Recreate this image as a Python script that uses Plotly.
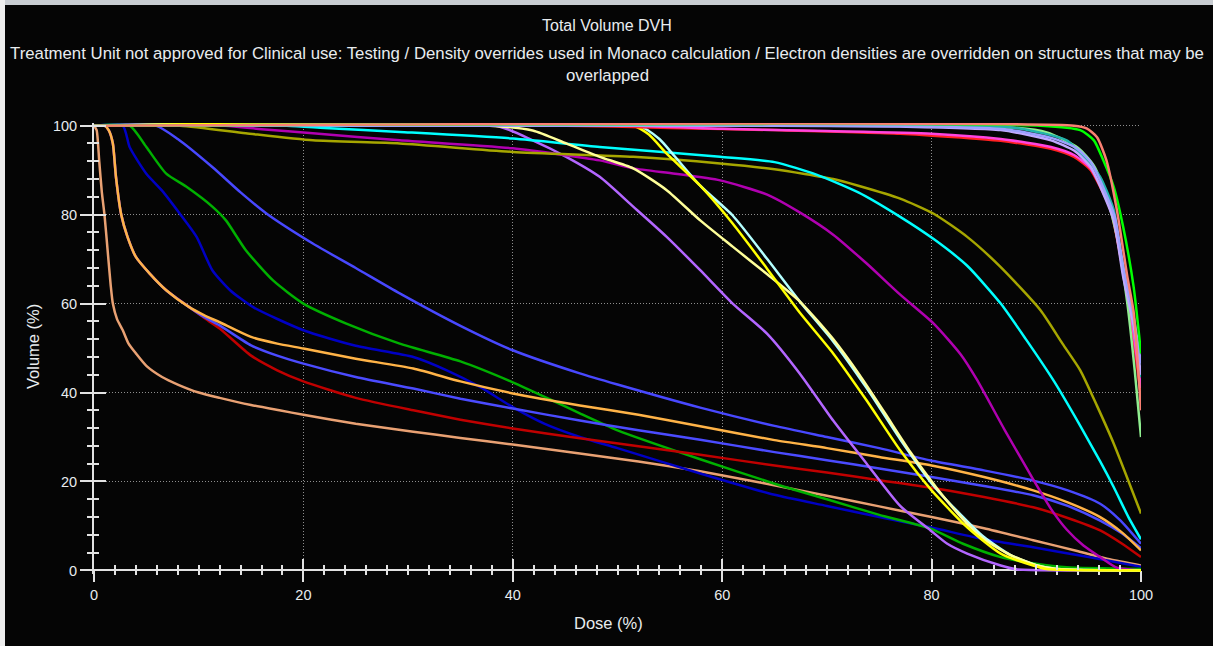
import plotly.graph_objects as go

# ---------------- data (dose %, volume %) ----------------
tan_dose = [0, 0.25, 0.5, 0.75, 1.0, 1.3, 1.6, 1.8, 2.2, 2.75, 3.3, 4, 5, 6.5, 8, 10, 12, 15, 17.7, 20, 25, 30.5, 35, 40, 46.4, 52, 57.9, 64, 70, 75, 80, 85, 89.7, 94, 97, 100]
tan_vol = [100, 99, 92, 85, 80, 72, 64, 60, 56.5, 54, 51, 48.8, 46, 43.5, 41.8, 40, 38.8, 37.2, 36, 35, 33, 31.2, 29.8, 28.3, 26.3, 24.5, 22.3, 19.6, 16.8, 14.4, 12, 9.5, 6.8, 4.3, 2.5, 1.1]

red_dose = [0, 1.0, 1.4, 1.8, 2.1, 2.6, 3.2, 4.0, 5.3, 6.9, 9.1, 10.5, 12, 15, 17.5, 20, 25, 30.5, 35, 40, 46.4, 52, 57.9, 65, 70, 75, 80, 85, 89.7, 93, 96.1, 98.2, 100]
red_vol = [100, 100, 99, 96, 88.4, 80, 75, 70.5, 66.8, 63, 59.2, 56.8, 54.4, 48.3, 45, 42.5, 38.8, 36, 33.9, 31.9, 29.7, 27.9, 26, 23.6, 22, 20.3, 18.6, 16.5, 14.2, 11.8, 9, 6, 3]

blue2_dose = [0, 1.0, 1.4, 1.8, 2.1, 2.6, 3.2, 4.0, 5.3, 6.9, 9.1, 10.5, 12, 15, 17.5, 20, 25, 30.5, 35, 40, 46.4, 52, 57.9, 65, 70, 75, 80, 85, 89.7, 93, 96.1, 98.2, 100]
blue2_vol = [100, 100, 99, 96, 88.4, 80, 75, 70.5, 66.8, 63, 59.2, 57, 55.1, 50.6, 48.3, 46.5, 43.5, 40.9, 38.6, 36.4, 33.7, 31.5, 29.4, 26.6, 24.8, 22.9, 21, 19, 16.9, 14.5, 11.2, 8.3, 5.0]

orange_dose = [0, 1.0, 1.4, 1.8, 2.1, 2.6, 3.2, 4.0, 5.3, 6.9, 9.1, 10.5, 12, 15, 17.5, 20, 25, 30.5, 35, 40, 46.4, 52, 57.9, 65, 70, 75, 80, 85, 89.7, 93, 96.1, 98.2, 100]
orange_vol = [100, 100, 99, 96, 88.4, 80, 75, 70.5, 66.8, 63, 59.2, 57.4, 55.8, 52.5, 51, 49.9, 47.6, 45.4, 42.5, 39.8, 37.1, 35, 32.4, 29.3, 27.5, 25.5, 23.6, 21, 18, 15.3, 12, 8.5, 4.5]

blue1_dose = [0, 5.9, 8, 11.3, 14, 16.5, 20.9, 25, 29.2, 35, 40, 46.4, 50, 57.9, 65, 70, 75, 79.9, 85, 89.7, 93, 96.1, 98, 100]
blue1_vol = [100, 100, 97, 90.7, 85, 80.2, 73.5, 68, 62.3, 55, 49.5, 44.3, 41.8, 36.6, 32.5, 30, 27.5, 24.7, 22.5, 20.2, 18, 15, 11.3, 6.0]

navy_dose = [0, 2.75, 3.4, 5, 6.5, 8.2, 9.8, 11.3, 13, 15.2, 20, 25, 30.5, 33.7, 36.9, 40, 43, 46.4, 50, 57.9, 65, 70, 75, 79.9, 85, 89.7, 95, 100]
navy_vol = [100, 100, 95.2, 89.2, 85.4, 80.2, 75, 67.5, 63, 59.2, 54, 50.5, 48, 45, 41.2, 36.7, 33, 30, 27.5, 21.8, 17, 14.5, 12, 9.7, 7, 5.2, 3, 0.8]

green_dose = [0, 3.4, 5, 6.9, 8.8, 11.3, 12.6, 14.5, 17.1, 20, 24.1, 29.2, 35, 40, 43.8, 46.4, 50, 57.9, 65, 70, 75, 79.9, 83, 86.6, 90, 92.9, 100]
green_vol = [100, 100, 95.2, 89.2, 86.3, 81.8, 78.7, 72, 65.2, 60, 55.5, 51, 47, 42.3, 38.2, 35.3, 31.5, 25, 19.5, 16, 12.5, 9.4, 6, 3, 1.5, 0.7, 0.3]

violet_dose = [0, 38.4, 41.9, 45.1, 48.3, 51.5, 54.7, 57.9, 61, 64.3, 67.4, 70.6, 73.8, 77, 79.9, 81.5, 83.4, 86.6, 88, 100]
violet_vol = [100, 100, 96.7, 93, 88.5, 81.8, 75, 67.5, 60, 53.2, 44.3, 33.7, 24, 14.5, 9, 6, 3.8, 1.1, 0.3, 0]

paleyellow_dose = [0, 37.8, 41.9, 45.1, 48.3, 51.5, 54.7, 57.9, 61, 64.3, 67.4, 70.6, 73.1, 75.5, 78, 80.5, 83, 85, 87.5, 90, 92, 100]
paleyellow_vol = [100, 100, 98.9, 96, 93, 90.4, 85.5, 78.7, 72.8, 66.6, 60.5, 52, 44, 35.5, 26.5, 18.5, 11.5, 7, 3.5, 1.2, 0.3, 0]

yellow_dose = [0, 51.5, 53, 54.7, 57.9, 61, 64.3, 67.4, 70.6, 73.8, 77, 80, 83.4, 86.6, 89.7, 91, 100]
yellow_vol = [100, 100, 98, 93.7, 86.5, 78, 67.8, 58, 48.8, 38.2, 27, 18, 9.7, 3.8, 1.1, 0.3, 0]

lightcyan_dose = [0, 52, 54, 55.5, 57.9, 61, 64.3, 67.4, 70.6, 73.8, 77, 80.2, 82.8, 85, 87.5, 90, 92, 100]
lightcyan_vol = [100, 100, 97, 93, 86.5, 79.8, 70, 60.5, 51.5, 41, 29.5, 19, 12.5, 7.5, 3.5, 1.2, 0.3, 0]

magenta_dose = [0, 12.5, 16, 20.9, 29.2, 40, 48.3, 51.5, 55.5, 59.8, 64.3, 67.4, 70.6, 73.8, 77, 80.2, 82.8, 84.3, 87, 89.7, 91.5, 92.9, 94.5, 96.1, 97.7, 100]
magenta_vol = [100, 100, 99.2, 98.3, 96.7, 94.9, 92.2, 90.4, 89.2, 87.7, 84.5, 80.5, 75.5, 69, 62, 55.5, 48.5, 43, 31.5, 20.5, 13.5, 9.2, 5.6, 3, 0.6, 0]

olive_dose = [0, 8.2, 14.5, 20.9, 29.2, 40, 51.5, 59.8, 65, 70.6, 73, 77, 80.2, 83.4, 86.6, 90.4, 92.5, 94.2, 95.8, 97.4, 100]
olive_vol = [100, 100, 98.3, 96.7, 96, 94.1, 93, 91.5, 90.2, 88, 86.5, 83.6, 80.2, 75, 68.2, 58.5, 51, 45, 37, 28.5, 12.8]

cyan_dose = [0, 18.4, 22, 29.2, 40, 48.3, 59.8, 65, 69, 73, 77, 80.2, 83.4, 86.6, 89, 91.7, 94.2, 96.1, 97.4, 98.8, 100]
cyan_vol = [100, 100, 99.5, 98.6, 97.1, 95.2, 93, 91.8, 89, 85, 79.5, 74.5, 68.5, 60, 52, 42.5, 32.5, 24.5, 18.7, 12, 7]

red2_dose = [0, 45, 55, 65, 77, 86.6, 91.4, 93.6, 95.2, 96.1, 97.1, 98, 99, 100]
red2_vol = [100, 100, 99.5, 99, 98.2, 96.6, 94.8, 93, 90, 86.2, 81, 71, 57, 39]

pink_dose = [0, 51.5, 60, 70, 80, 86.6, 91.4, 93.6, 95.2, 96.1, 97.1, 98, 99, 100]
pink_vol = [100, 100, 99.3, 98.8, 98.2, 97, 95.2, 93.4, 90.4, 86.6, 81.5, 71.5, 58, 41]

lavender_dose = [0, 65, 77, 86.6, 91.4, 93.6, 95.2, 96.4, 97.4, 98.3, 99.3, 100]
lavender_vol = [100, 100, 99.8, 99, 96.7, 94.4, 90.7, 84.7, 78.7, 66, 55, 44]

lightblue_dose = [0, 70, 80, 87, 91.5, 93.8, 95.3, 96.5, 97.5, 98.4, 99.3, 100]
lightblue_vol = [100, 100, 99.8, 99.2, 97.2, 95, 91.5, 85.5, 79.5, 67, 57, 46.5]

teal_dose = [0, 80, 88, 92.9, 94.8, 96.1, 97.4, 98, 99, 100]
teal_vol = [100, 100, 99.5, 96.7, 92.2, 88.5, 81, 72, 60, 43.5]

lightgreen_dose = [0, 85, 91, 94, 95.5, 96.7, 97.7, 98.7, 99.4, 100]
lightgreen_vol = [100, 100, 98.5, 95, 91, 84, 75, 60, 45, 30]

green2_dose = [0, 90.4, 94.2, 95.5, 96.4, 97.4, 98.3, 99.3, 100]
green2_vol = [100, 100, 99, 96.7, 92.2, 86.2, 77.2, 63.7, 48.8]

salmon_dose = [0, 93.6, 94.8, 95.8, 96.7, 97.7, 98.7, 99.3, 100]
salmon_vol = [100, 100, 99.4, 97.4, 92.2, 81, 66, 58, 36]

x_ticks = [0, 20, 40, 60, 80, 100]
y_ticks = [0, 20, 40, 60, 80, 100]

curves = [
    (tan_dose, tan_vol, "#E9A173"),
    (navy_dose, navy_vol, "#0000C4"),
    (green_dose, green_vol, "#00B000"),
    (red_dose, red_vol, "#C00000"),
    (blue2_dose, blue2_vol, "#4B4BFF"),
    (orange_dose, orange_vol, "#FFB347"),
    (blue1_dose, blue1_vol, "#4848FF"),
    (violet_dose, violet_vol, "#B366FF"),
    (magenta_dose, magenta_vol, "#B000B0"),
    (olive_dose, olive_vol, "#A6A600"),
    (cyan_dose, cyan_vol, "#00FFFF"),
    (lightcyan_dose, lightcyan_vol, "#B4FFFF"),
    (paleyellow_dose, paleyellow_vol, "#FFFF99"),
    (yellow_dose, yellow_vol, "#FFFF00"),
    (red2_dose, red2_vol, "#FF2020"),
    (pink_dose, pink_vol, "#FF44E0"),
    (lightgreen_dose, lightgreen_vol, "#90EE90"),
    (teal_dose, teal_vol, "#22B2AA"),
    (lavender_dose, lavender_vol, "#C0A8FF"),
    (lightblue_dose, lightblue_vol, "#9CA0FF"),
    (green2_dose, green2_vol, "#00FF00"),
    (salmon_dose, salmon_vol, "#FA8072"),
]

# ---------------- layout geometry ----------------
W, H = 1213, 646
ML, MR, MT, MB = 94, 72, 123, 72
PW, PH = W - ML - MR, H - MT - MB
YR = [-0.8, 100.6]
XR = [0, 100]
x_axis_pos = (0 - YR[0]) / (YR[1] - YR[0])

def py(pix):  # pixel row -> paper y
    return (H - MB - pix) / PH

def px(pix):  # pixel column -> paper x
    return (pix - ML) / PW

fig = go.Figure()
for d, v, c in curves:
    fig.add_trace(go.Scatter(x=d, y=v, mode="lines",
                             line=dict(color=c, width=2.5, shape="spline", smoothing=0.6),
                             showlegend=False, hoverinfo="skip"))
# helper trace so the secondary (tick) axes exist
fig.add_trace(go.Scatter(x=[None], y=[None], xaxis="x2", yaxis="y2",
                         showlegend=False, hoverinfo="skip"))

AX = "#E2E2E2"
GRID = "#8E8E8E"
FONT = "Liberation Sans, Arial, sans-serif"
TXT = "#E8ECEF"

fig.update_layout(
    width=W, height=H,
    margin=dict(l=ML, r=MR, t=MT, b=MB, pad=0),
    paper_bgcolor="#050505", plot_bgcolor="#050505",
    font=dict(family=FONT, color=TXT, size=14),
    xaxis=dict(range=XR, tickmode="array", tickvals=x_ticks, ticktext=[str(t) for t in x_ticks],
               anchor="free", position=x_axis_pos,
               ticks="outside", ticklen=11, tickwidth=2, tickcolor=AX,
               showline=True, linecolor=AX, linewidth=2,
               showgrid=True, gridcolor=GRID, griddash="1px,2px", gridwidth=1,
               zeroline=False, layer="below traces",
               tickfont=dict(size=14.5, color=TXT),
               minor=dict(dtick=2, tick0=0, ticks="outside", ticklen=4, tickwidth=1.5,
                          tickcolor=AX, showgrid=False)),
    xaxis2=dict(range=XR, overlaying="x", anchor="free", position=x_axis_pos, side="bottom",
                tickmode="array", tickvals=x_ticks, showticklabels=False,
                ticks="inside", ticklen=11, tickwidth=2, tickcolor=AX,
                showline=False, showgrid=False, zeroline=False,
                minor=dict(dtick=2, tick0=0, ticks="inside", ticklen=5, tickwidth=1.5,
                           tickcolor=AX, showgrid=False)),
    yaxis=dict(range=YR, tickmode="array", tickvals=y_ticks, ticktext=[str(t) for t in y_ticks],
               ticks="outside", ticklen=12, tickwidth=2, tickcolor=AX,
               showline=True, linecolor=AX, linewidth=2,
               showgrid=True, gridcolor=GRID, griddash="1px,2px", gridwidth=1,
               zeroline=False, layer="below traces",
               tickfont=dict(size=14.5, color=TXT),
               minor=dict(dtick=4, tick0=0, ticks="outside", ticklen=5, tickwidth=1.5,
                          tickcolor=AX, showgrid=False)),
    yaxis2=dict(range=YR, overlaying="y", anchor="x", side="left",
                tickmode="array", tickvals=y_ticks, showticklabels=False,
                ticks="inside", ticklen=12, tickwidth=2, tickcolor=AX,
                showline=False, showgrid=False, zeroline=False,
                minor=dict(dtick=4, tick0=0, ticks="inside", ticklen=5, tickwidth=1.5,
                           tickcolor=AX, showgrid=False)),
)

# window frame strips (top grey bar, left light edge)
fig.add_shape(type="rect", xref="paper", yref="paper", x0=px(0), x1=px(W), y0=py(5), y1=py(0),
              fillcolor="#C9CDD2", line_width=0, layer="above")
fig.add_shape(type="rect", xref="paper", yref="paper", x0=px(0), x1=px(5), y0=py(H), y1=py(0),
              fillcolor="#EEEEEE", line_width=0, layer="above")

cx = px(607)
fig.add_annotation(text="Total Volume DVH", x=cx, y=py(25), xref="paper", yref="paper",
                   showarrow=False, font=dict(size=16, color=TXT, family=FONT), xanchor="center", yanchor="middle")
fig.add_annotation(text="Treatment Unit not approved for Clinical use: Testing / Density overrides used in Monaco calculation / Electron densities are overridden on structures that may be",
                   x=cx, y=py(54), xref="paper", yref="paper", showarrow=False,
                   font=dict(size=16.8, color=TXT, family=FONT), xanchor="center", yanchor="middle")
fig.add_annotation(text="overlapped", x=cx, y=py(75), xref="paper", yref="paper", showarrow=False,
                   font=dict(size=16.8, color=TXT, family=FONT), xanchor="center", yanchor="middle")
fig.add_annotation(text="Volume (%)", x=px(33), y=py(347), xref="paper", yref="paper", showarrow=False,
                   textangle=-90, font=dict(size=16.5, color=TXT, family=FONT), xanchor="center", yanchor="middle")
fig.add_annotation(text="Dose (%)", x=px(608), y=py(623), xref="paper", yref="paper", showarrow=False,
                   font=dict(size=16.5, color=TXT, family=FONT), xanchor="center", yanchor="middle")

fig.write_html("out.html",
               config={"displayModeBar": False},
               post_script="document.body.style.margin='0px';document.body.style.padding='0px';document.body.style.overflow='hidden';")
